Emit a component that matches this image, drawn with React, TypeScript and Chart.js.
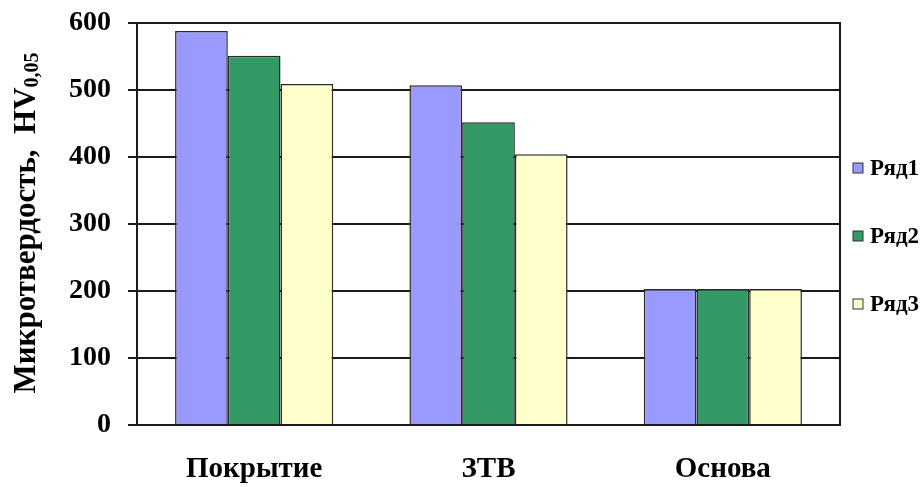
import React, { useEffect, useRef } from "react";
import { Chart, registerables } from "chart.js";

Chart.register(...registerables);

const categories = ["Покрытие", "ЗТВ", "Основа"];
const seriesLabels = ["Ряд1", "Ряд2", "Ряд3"];
const series1 = [588, 507, 203];
const series2 = [551, 452, 203];
const series3 = [509, 404, 203];
const yTicks = [0, 100, 200, 300, 400, 500, 600];
const yTitleMain = "Микротвердость,  HV";
const yTitleSub = "0,05";

const colors = ["#9999FF", "#339966", "#FFFFCC"];
const FONT = "'Liberation Serif', 'Times New Roman', serif";

const framePlugin = {
  id: "frame",
  afterDatasetsDraw(chart: any) {
    const { ctx, chartArea: a } = chart;
    ctx.save();
    ctx.strokeStyle = "#1a1a1a";
    ctx.lineWidth = 2;
    ctx.strokeRect(a.left, a.top, a.right - a.left, a.bottom - a.top);
    ctx.restore();
  },
  afterDraw(chart: any) {
    const { ctx, chartArea: a } = chart;
    ctx.save();
    ctx.fillStyle = "#000";
    const cy = 223;
    ctx.translate(35, cy);
    ctx.rotate(-Math.PI / 2);
    ctx.font = `bold 31px ${FONT}`;
    const w1 = ctx.measureText(yTitleMain).width;
    ctx.font = `bold 20px ${FONT}`;
    const w2 = ctx.measureText(yTitleSub).width;
    const start = -(w1 + w2) / 2;
    ctx.textBaseline = "alphabetic";
    ctx.textAlign = "left";
    ctx.font = `bold 31px ${FONT}`;
    ctx.fillText(yTitleMain, start, 0);
    ctx.font = `bold 20px ${FONT}`;
    ctx.fillText(yTitleSub, start + w1, 3);
    ctx.restore();

    ctx.save();
    const centerY = 236;
    const gap = 68;
    chart.data.datasets.forEach((ds: any, i: number) => {
      const y = centerY + (i - 1) * gap;
      const bx = a.right + 13;
      ctx.fillStyle = ds.backgroundColor;
      ctx.fillRect(bx, y - 5, 10, 10);
      ctx.strokeStyle = "#333";
      ctx.lineWidth = 1;
      ctx.strokeRect(bx, y - 5, 10, 10);
      ctx.fillStyle = "#000";
      ctx.font = `bold 23px ${FONT}`;
      ctx.textBaseline = "middle";
      ctx.textAlign = "left";
      ctx.fillText(ds.label, bx + 17, y + 1);
    });
    ctx.restore();
  },
};

export default function App() {
  const ref = useRef<HTMLCanvasElement | null>(null);
  useEffect(() => {
    if (!ref.current) return;
    const data = [series1, series2, series3];
    const chart = new Chart(ref.current, {
      type: "bar",
      data: {
        labels: categories,
        datasets: seriesLabels.map((l, i) => ({
          label: l,
          data: data[i],
          backgroundColor: colors[i],
          borderColor: "#2a2a2a",
          borderWidth: 1.5,
          barPercentage: 1,
          categoryPercentage: 0.675,
        })),
      },
      options: {
        animation: false,
        responsive: true,
        maintainAspectRatio: false,
        layout: { padding: { top: 23, right: 84, bottom: 0, left: 0 } },
        plugins: { legend: { display: false }, tooltip: { enabled: false } },
        scales: {
          x: {
            grid: { display: false },
            border: { display: true, color: "#1a1a1a", width: 2 },
            ticks: {
              color: "#000",
              padding: 19,
              font: { family: FONT, size: 29, weight: "bold" },
            },
            afterFit(scale: any) {
              scale.height = 62;
              scale.paddingLeft = 0;
              scale.paddingRight = 0;
            },
          },
          y: {
            min: 0,
            max: 600,
            afterBuildTicks(scale: any) {
              scale.ticks = yTicks.map((v) => ({ value: v }));
            },
            grid: { color: "#1a1a1a", lineWidth: 2, tickLength: 9 },
            border: { display: true, color: "#1a1a1a", width: 2 },
            ticks: {
              color: "#000",
              padding: 17,
              font: { family: FONT, size: 28, weight: "bold" },
            },
            afterFit(scale: any) {
              scale.width = 137;
              scale.paddingTop = 0;
              scale.paddingBottom = 0;
            },
          },
        },
      },
      plugins: [framePlugin],
    });
    return () => chart.destroy();
  }, []);
  return (
    <div style={{ position: "fixed", left: 0, top: 0, width: 924, height: 487, background: "#fff" }}>
      <canvas ref={ref} />
    </div>
  );
}
